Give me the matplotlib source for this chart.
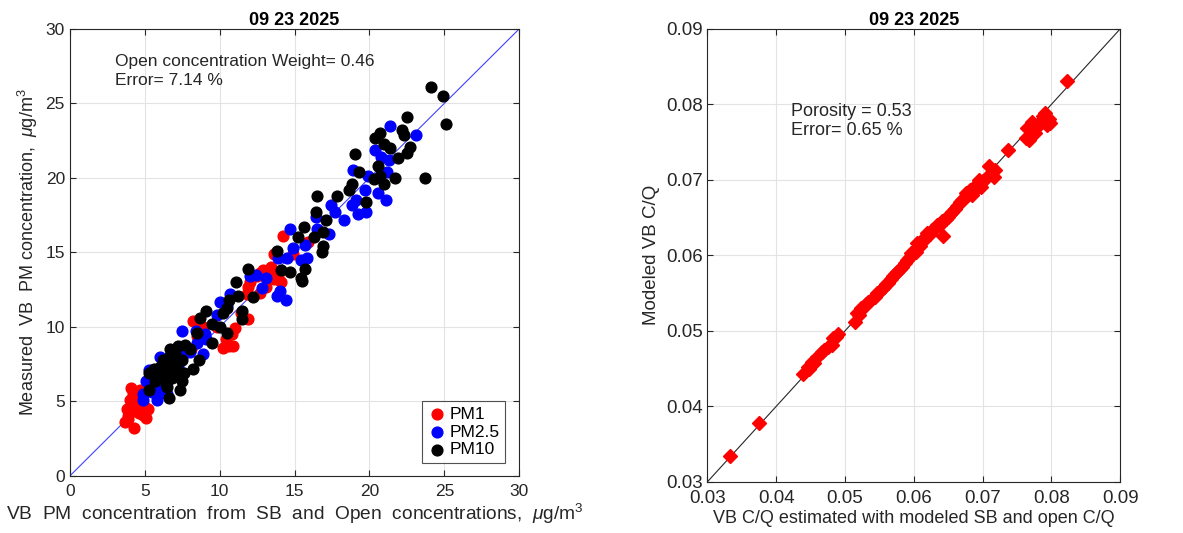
import numpy as np
import matplotlib
matplotlib.use("Agg")
import matplotlib.pyplot as plt

plt.rcParams['font.family'] = ['Liberation Sans', 'DejaVu Sans']
plt.rcParams['mathtext.fontset'] = 'custom'
plt.rcParams['mathtext.rm'] = 'Liberation Sans'
plt.rcParams['mathtext.it'] = 'Liberation Sans:italic'

title = "09 23 2025"

# left panel: (model, measured) in ug/m3
pm1_x = [3.7, 4.3, 3.8, 4.1, 4.7, 4.0, 4.5, 4.9, 5.1, 5.2, 4.6, 3.9, 4.8, 4.4, 4.2,
         14.2, 13.6, 12.9, 12.5, 13.4, 13.9, 14.1, 13.6, 12.7, 11.9, 11.9, 11.0,
         10.2, 10.9, 10.4, 8.2, 8.9, 8.5, 8.1, 9.8, 11.4, 15.9, 14.9, 12.7, 13.1,
         4.3, 4.0, 3.9, 5.0, 10.6, 10.8, 11.8, 12.0, 13.3]
pm1_y = [3.6, 3.2, 4.5, 5.9, 5.8, 5.1, 4.9, 4.1, 3.9, 4.5, 4.2, 4.0, 5.3, 4.7, 5.5,
         16.1, 14.9, 13.8, 13.4, 14.0, 13.4, 13.0, 13.2, 12.3, 12.7, 10.5, 9.9,
         8.6, 8.7, 9.2, 10.4, 10.0, 9.4, 8.5, 10.0, 10.9, 15.7, 14.9, 13.6, 12.7,
         5.0, 4.3, 3.8, 4.6, 8.7, 9.5, 12.2, 13.0, 13.6]

pm25_x = [21.4, 23.1, 20.4, 21.3, 20.8, 18.9, 19.9, 21.2, 19.7, 20.6, 21.1, 19.1,
          18.8, 19.2, 19.8, 18.3, 17.4, 17.7, 16.4, 16.5, 17.3, 14.7, 14.9, 14.5,
          15.4, 15.8, 15.7, 13.9, 13.1, 12.8, 12.0, 13.8, 14.4, 14.0, 10.0, 10.7,
          9.8, 7.5, 8.4, 9.1, 8.9, 8.5, 6.0, 5.1, 4.9, 5.8, 6.1, 6.9, 5.3, 7.2,
          6.5, 7.35, 7.8, 5.5, 5.5, 6.2, 4.9, 8.0, 9.0, 10.5, 12.4]
pm25_y = [23.5, 22.9, 21.9, 21.2, 21.4, 20.5, 20.1, 20.4, 19.2, 19.0, 18.5, 18.5,
          18.2, 17.6, 17.7, 17.2, 18.2, 17.7, 17.4, 16.6, 16.2, 16.6, 15.3, 14.6,
          14.5, 14.6, 15.5, 14.6, 13.3, 12.6, 13.4, 12.1, 11.8, 12.4, 11.7, 12.2,
          10.8, 9.7, 9.7, 9.2, 8.2, 8.9, 8.0, 6.4, 5.1, 5.1, 5.8, 6.9, 7.1, 7.3,
          5.5, 8.2, 8.5, 5.6, 6.0, 7.0, 5.5, 8.3, 9.5, 11.5, 13.5]

pm10_x = [24.1, 24.9, 25.1, 22.5, 23.7, 19.0, 20.7, 20.4, 21.0, 21.4, 22.2, 22.3,
          22.7, 22.5, 21.9, 20.6, 20.7, 21.0, 21.7, 20.3, 19.3, 18.8, 18.6, 19.8,
          17.8, 16.5, 16.4, 17.1, 16.9, 16.3, 15.6, 15.2, 16.9, 16.8, 13.8, 14.1,
          14.7, 15.7, 15.4, 15.5, 11.9, 11.1, 11.2, 12.2, 10.6, 10.5, 10.2, 11.5,
          11.5, 9.1, 8.7, 9.5, 10.0, 10.5, 8.5, 9.5, 8.6, 8.2, 7.6, 7.35, 6.6,
          6.7, 7.0, 6.2, 6.0, 5.6, 5.3, 5.7, 6.5, 6.0, 6.9, 7.2, 5.3, 7.7, 8.0,
          6.5, 6.8, 7.5, 6.3, 6.6, 7.1, 6.4, 5.8, 7.3, 6.8, 7.5]
pm10_y = [26.1, 25.5, 23.6, 24.1, 20.0, 21.6, 23.0, 22.7, 22.3, 22.0, 23.2, 22.9,
          22.1, 21.7, 21.3, 20.8, 20.1, 19.6, 20.0, 19.9, 20.4, 19.6, 19.2, 18.4,
          18.8, 18.8, 17.7, 17.2, 16.4, 16.0, 16.7, 16.0, 15.4, 15.0, 15.1, 13.8,
          13.7, 13.9, 13.3, 13.1, 13.9, 13.0, 12.1, 12.0, 11.8, 11.3, 10.9, 11.1,
          10.5, 11.1, 10.6, 10.2, 10.0, 9.6, 9.6, 8.9, 7.8, 7.2, 6.9, 5.8, 5.2,
          8.5, 8.2, 7.8, 7.3, 7.2, 6.9, 6.4, 6.9, 6.7, 7.4, 8.7, 5.8, 8.8, 8.5,
          6.0, 6.6, 6.4, 7.5, 8.0, 7.6, 6.2, 6.8, 7.0, 8.4, 7.8]

# right panel: (estimated, modeled) C/Q
cq_est = [0.0333, 0.0375, 0.0822, 0.0737, 0.0767, 0.0765, 0.0771, 0.0778, 0.0787,
          0.0791, 0.0796, 0.0798, 0.0782, 0.0776, 0.0763, 0.0718, 0.0716, 0.0709,
          0.0694, 0.0698, 0.0689, 0.0681, 0.0685, 0.0676, 0.0670, 0.0663, 0.0656,
          0.0650, 0.0641, 0.0643, 0.0634, 0.0627, 0.0621, 0.0612, 0.0605, 0.0601,
          0.0596, 0.0590, 0.0583, 0.0576, 0.0570, 0.0563, 0.0557, 0.0550, 0.0543,
          0.0537, 0.0530, 0.0523, 0.0517, 0.0514, 0.0490, 0.0483, 0.0481, 0.0466,
          0.0459, 0.0452, 0.0446, 0.0439, 0.0475, 0.0619, 0.0646, 0.0608,
          0.0448, 0.0455, 0.0470, 0.0487, 0.0520, 0.0527, 0.0533, 0.0547, 0.0553,
          0.0560, 0.0567, 0.0573, 0.0580, 0.0587, 0.0593, 0.0603, 0.0609, 0.0615,
          0.0624, 0.0630, 0.0638, 0.0653, 0.0660, 0.0667, 0.0673, 0.0692, 0.0700,
          0.0705, 0.0770, 0.0790, 0.0794]
cq_mod = [0.0334, 0.0378, 0.0831, 0.0740, 0.0753, 0.0769, 0.0777, 0.0769, 0.0784,
          0.0788, 0.0780, 0.0775, 0.0775, 0.0762, 0.0755, 0.0713, 0.0704, 0.0718,
          0.0700, 0.0691, 0.0687, 0.0687, 0.0680, 0.0682, 0.0673, 0.0665, 0.0658,
          0.0651, 0.0645, 0.0625, 0.0640, 0.0634, 0.0627, 0.0620, 0.0616, 0.0607,
          0.0603, 0.0594, 0.0585, 0.0578, 0.0572, 0.0563, 0.0558, 0.0552, 0.0545,
          0.0541, 0.0536, 0.0530, 0.0523, 0.0512, 0.0496, 0.0490, 0.0481, 0.0472,
          0.0465, 0.0459, 0.0452, 0.0443, 0.0479, 0.0630, 0.0648, 0.0612,
          0.0450, 0.0457, 0.0474, 0.0492, 0.0521, 0.0531, 0.0538, 0.0550, 0.0555,
          0.0562, 0.0568, 0.0575, 0.0582, 0.0590, 0.0597, 0.0605, 0.0612, 0.0620,
          0.0628, 0.0636, 0.0640, 0.0655, 0.0661, 0.0670, 0.0675, 0.0695, 0.0698,
          0.0702, 0.0760, 0.0778, 0.0772]


def style_axes(ax, fs):
    ax.grid(True, color='#e3e3e3', linewidth=0.8)
    ax.set_axisbelow(True)
    ax.tick_params(direction='in', top=True, right=True, labelsize=fs,
                   colors='#262626', length=4)
    ax.tick_params(axis='x', pad=6)
    for s in ax.spines.values():
        s.set_color('#262626')
        s.set_linewidth(0.8)


fig = plt.figure(figsize=(11.83, 5.33), dpi=100)

ax1 = fig.add_axes([0.059, 0.107, 0.380, 0.839])
ax1.plot([0, 30], [0, 30], color='#4040ff', linewidth=0.8, zorder=1)
ax1.scatter(pm1_x, pm1_y, s=60, color='#ff0000', label='PM1', zorder=2)
ax1.scatter(pm25_x, pm25_y, s=60, color='#0000ff', label='PM2.5', zorder=3)
ax1.scatter(pm10_x, pm10_y, s=60, color='#000000', label='PM10', zorder=4)
ax1.set_xlim(0, 30)
ax1.set_ylim(0, 30)
ax1.set_xticks(range(0, 31, 5))
ax1.set_yticks(range(0, 31, 5))
style_axes(ax1, 12.5)
ax1.set_title(title, fontsize=13, fontweight='bold', pad=3)
ax1.set_xlabel(r'VB  PM  concentration  from  SB  and  Open  concentrations,  $\mu$g/m$^3$',
               fontsize=13.8, color='#262626', labelpad=2)
ax1.set_ylabel(r'Measured  VB  PM concentration,  $\mu$g/m$^3$', fontsize=13,
               color='#262626')
ax1.text(3.0, 28.3, 'Open concentration Weight= 0.46\nError= 7.14 %', fontsize=12.5,
         va='top', color='#262626', linespacing=1.3)
leg = ax1.legend(loc='lower right', bbox_to_anchor=(0.968, 0.03), fontsize=12.5,
                 fancybox=False, edgecolor='#262626', handletextpad=0.1,
                 borderpad=0.3, labelspacing=0.15, handlelength=1.2,
                 borderaxespad=0)
leg.get_frame().set_linewidth(0.8)

ax2 = fig.add_axes([0.598, 0.096, 0.349, 0.850])
ax2.plot([0.03, 0.09], [0.03, 0.09], color='#262626', linewidth=0.8, zorder=1)
ax2.plot(cq_est, cq_mod, linestyle='none', marker='D', markersize=7.5,
         color='#ff0000', zorder=2)
ax2.set_xlim(0.03, 0.09)
ax2.set_ylim(0.03, 0.09)
ticks = [0.03, 0.04, 0.05, 0.06, 0.07, 0.08, 0.09]
ax2.set_xticks(ticks)
ax2.set_yticks(ticks)
ax2.set_xticklabels([f'{t:.2f}' for t in ticks])
ax2.set_yticklabels([f'{t:.2f}' for t in ticks])
style_axes(ax2, 13.5)
ax2.set_title(title, fontsize=13, fontweight='bold', pad=3)
ax2.set_xlabel('VB C/Q estimated with modeled SB and open C/Q', fontsize=13,
               color='#262626', labelpad=2)
ax2.set_ylabel('Modeled VB C/Q', fontsize=13.5, color='#262626')
ax2.text(0.0421, 0.0802, 'Porosity = 0.53\nError= 0.65 %', fontsize=13,
         va='top', color='#262626', linespacing=1.2)

fig.savefig('out.png', dpi=100)
